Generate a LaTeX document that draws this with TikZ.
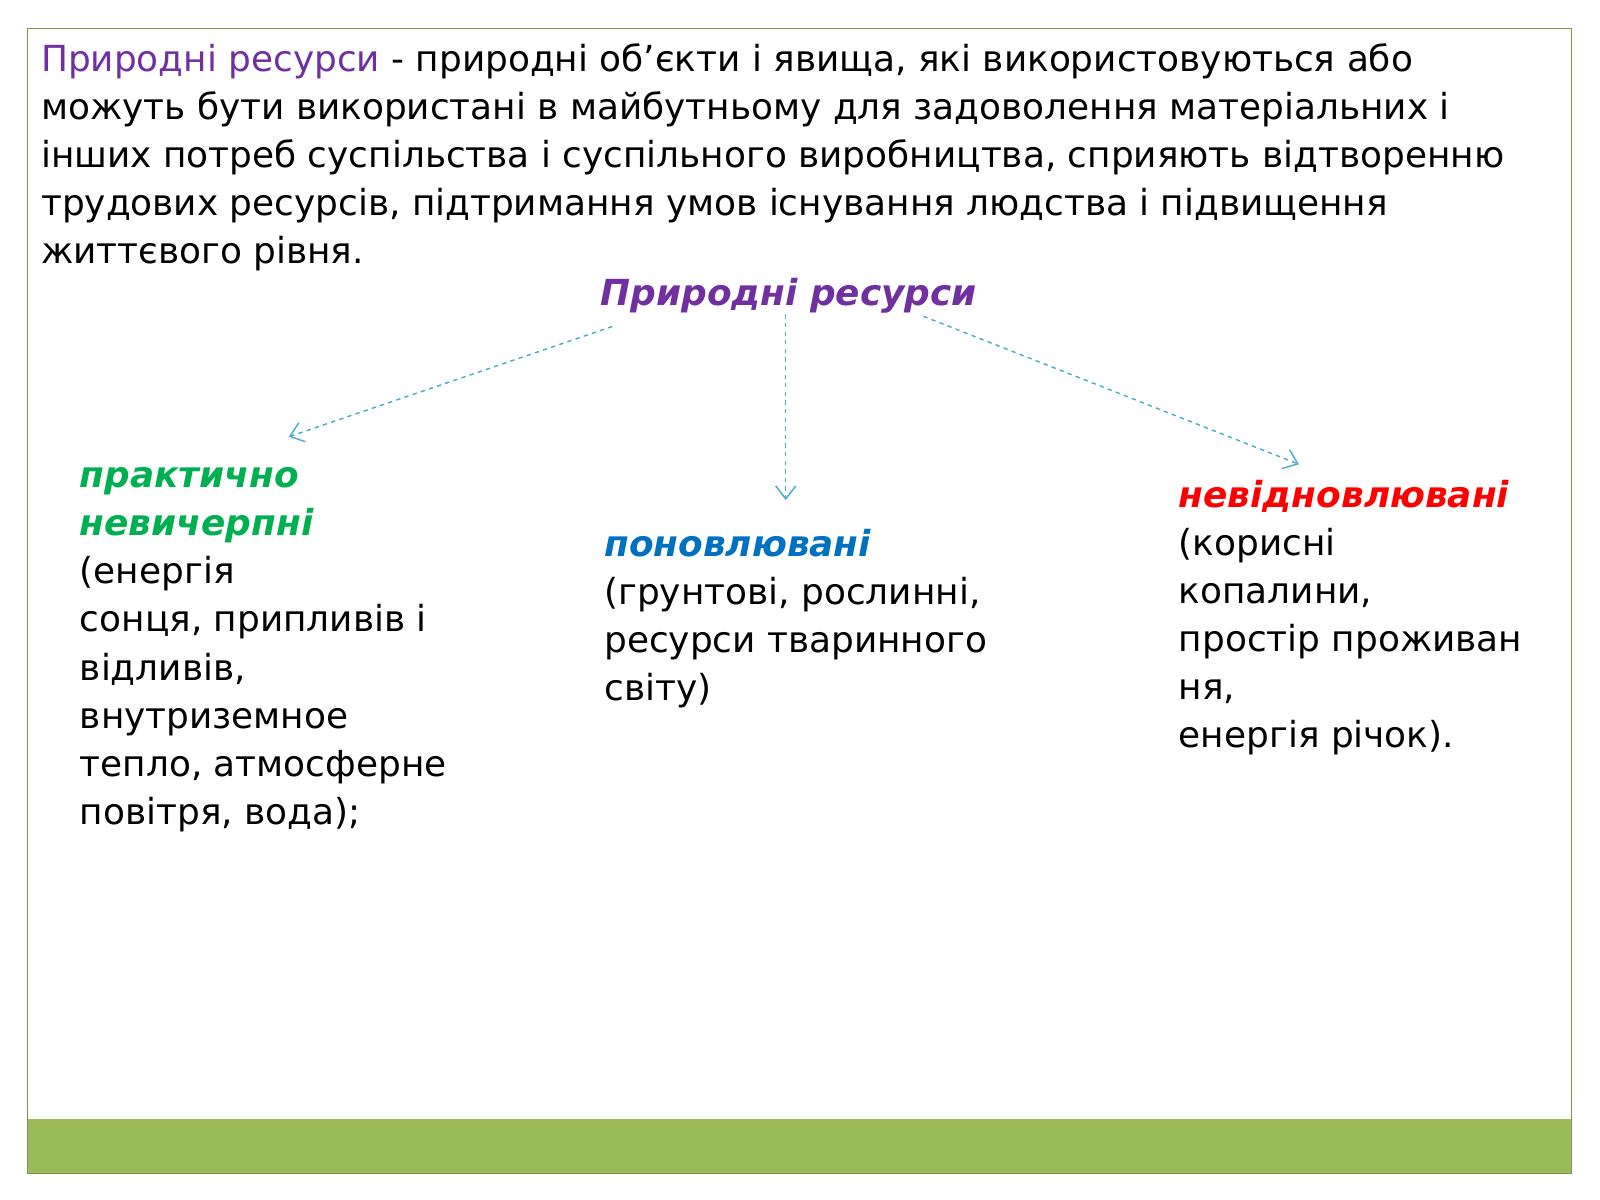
\documentclass[tikz,border=0pt]{standalone}
\usepackage{fontspec}
\setmainfont{DejaVu Sans}
\usetikzlibrary{arrows.meta}
\definecolor{purp}{HTML}{7030A0}
\definecolor{grn}{HTML}{00B050}
\definecolor{blu}{HTML}{0070C0}
\definecolor{arr}{HTML}{4BACC6}
\definecolor{bar}{HTML}{9BBB59}
\tikzset{txt/.style={anchor=north west,inner sep=0pt,align=left,font=\fontsize{25}{33.5}\selectfont},
 conn/.style={draw=arr,dashed,line width=1pt,-{Straight Barb[length=9pt,width=14pt]}}}
\begin{document}
\begin{tikzpicture}[x=0.025cm,y=-0.025cm]
\useasboundingbox (0,0) rectangle (1568,1176);
\fill[bar] (27,1097) rectangle (1540,1150);
\draw[bar!80!black,line width=1pt] (27,28) rectangle (1540,1150);
\node[txt] (def) at (40,42) {{\color{purp}Природні ресурси} - природні об'єкти і явища, які використовуються або\\
можуть бути використані в майбутньому для задоволення матеріальних і\\
інших потреб суспільства і суспільного виробництва, сприяють відтворенню\\
трудових ресурсів, підтримання умов існування людства і підвищення\\
життєвого рівня.};
\node[inner sep=0pt,font=\fontsize{25}{30}\selectfont\bfseries\itshape,text=purp] (root) at (773,290) {Природні ресурси};
\node[txt] (l) at (78,458) {{\color{grn}\bfseries\itshape практично}\\{\color{grn}\bfseries\itshape невичерпні}\\(енергія\\сонця, припливів і\\відливів,\\внутриземное\\тепло, атмосферне\\повітря, вода);};
\node[txt] (m) at (592,518) {{\color{blu}\bfseries\itshape поновлювані}\\ (грунтові, рослинні,\\ ресурси тваринного\\світу)};
\node[txt] (r) at (1155,470) {{\color{red}\bfseries\itshape невідновлювані}\\(корисні\\копалини,\\простір проживан\\ня,\\енергія річок).};
\coordinate (a1) at (600,320); \coordinate (b1) at (283,428);
\coordinate (a2) at (770,308); \coordinate (b2) at (770,490);
\coordinate (a3) at (905,310); \coordinate (b3) at (1273,455);
\draw[conn] (a1) -- (b1);
\draw[conn] (a2) -- (b2);
\draw[conn] (a3) -- (b3);
\end{tikzpicture}
\end{document}
